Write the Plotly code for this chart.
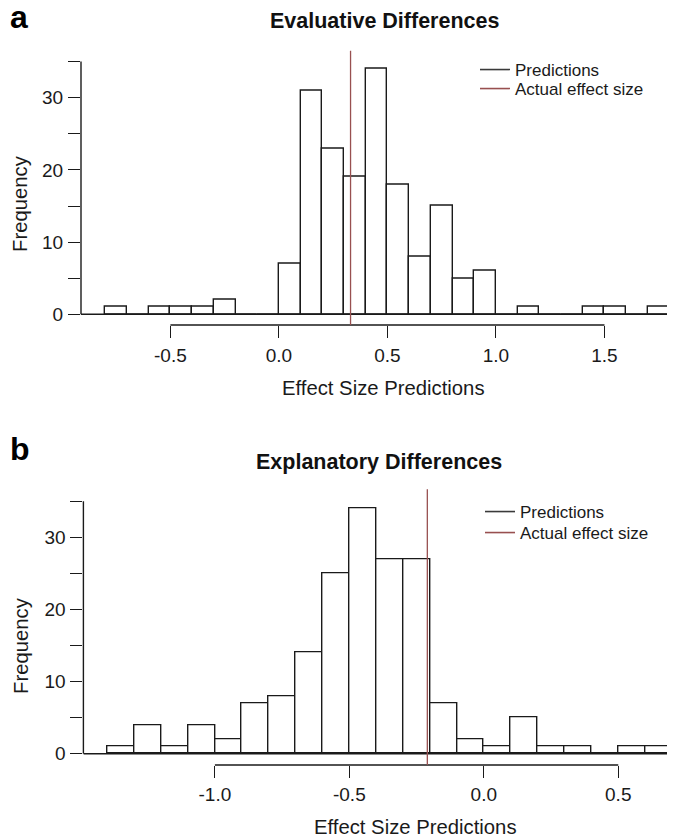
import plotly.graph_objects as go

# ---------------- data ----------------
bins_a = [-0.8, -0.7, -0.6, -0.5, -0.4, -0.3, -0.2, -0.1, 0.0, 0.1, 0.2, 0.3, 0.4,
          0.5, 0.6, 0.7, 0.8, 0.9, 1.0, 1.1, 1.2, 1.3, 1.4, 1.5, 1.6, 1.7]
counts_a = [1, 0, 1, 1, 1, 2, 0, 0, 7, 31, 23, 19, 34,
            18, 8, 15, 5, 6, 0, 1, 0, 0, 1, 1, 0, 1]

bins_b = [-1.4, -1.3, -1.2, -1.1, -1.0, -0.9, -0.8, -0.7, -0.6, -0.5, -0.4,
          -0.3, -0.2, -0.1, 0.0, 0.1, 0.2, 0.3, 0.4, 0.5, 0.6]
counts_b = [1, 4, 1, 4, 2, 7, 8, 14, 25, 34, 27,
            27, 7, 2, 1, 5, 1, 1, 0, 1, 1]

bin_width = 0.1
actual_a = 0.33
actual_b = -0.21

xticks_a = [-0.5, 0.0, 0.5, 1.0, 1.5]
xlabels_a = ["-0.5", "0.0", "0.5", "1.0", "1.5"]
xticks_b = [-1.0, -0.5, 0.0, 0.5]
xlabels_b = ["-1.0", "-0.5", "0.0", "0.5"]
yticks = [0, 5, 10, 15, 20, 25, 30, 35]
ylabels = ["0", "", "10", "", "20", "", "30", ""]
ymax_axis = 35

titles = ["Evaluative Differences", "Explanatory Differences"]
panel_letters = ["a", "b"]
xlabel = "Effect Size Predictions"
ylabel = "Frequency"
legend_names = ["Predictions", "Actual effect size"]

# ---------------- styling ----------------
# page body has an 8px margin, so the figure is drawn 8px right/down
OFF = 8
W, H = 675 - OFF, 839 - OFF
FONT = "Liberation Sans, Arial, Helvetica, sans-serif"
INK = "#1a1a1a"
RED = "#985050"
LEG_DARK = "#3a3a3a"
LW = 1.4


def fx(p):
    return (p - OFF) / W


def fy(p):
    return 1 - (p - OFF) / H


fig = go.Figure()

panels = [
    dict(bins=bins_a, counts=counts_a, actual=actual_a, xt=xticks_a, xl=xlabels_a,
         xa="x", ya="y", xdom=[fx(81), 1.0], ydom=[fy(325), fy(50.7)],
         xr=[-0.912, 1.825], yr=[-1.48, 36.51], xstand=1,
         title_y=21, title_x=385, xlab_x=383, xlab_y=388, ylab_x=20, ylab_y=204,
         letter_y=17, leg_y=[69, 88], leg_x=510, legs=("legend", "legend2")),
    dict(bins=bins_b, counts=counts_b, actual=actual_b, xt=xticks_b, xl=xlabels_b,
         xa="x2", ya="y2", xdom=[fx(83.4), 1.0], ydom=[fy(765), fy(489.3)],
         xr=[-1.489, 0.711], yr=[-1.57, 36.67], xstand=0,
         title_y=462, title_x=379, xlab_x=415, xlab_y=827, ylab_x=21, ylab_y=646,
         letter_y=449, leg_y=[511, 532], leg_x=515, legs=("legend3", "legend4")),
]

layout = dict(
    width=W, height=H,
    margin=dict(l=0, r=0, t=0, b=0),
    paper_bgcolor="white", plot_bgcolor="white",
    font=dict(family=FONT, color=INK),
    showlegend=True,
    bargap=0,
)

shapes = []
annotations = []

for i, p in enumerate(panels):
    suffix = "" if i == 0 else "2"
    xaxis_name = "xaxis" + suffix
    yaxis_name = "yaxis" + suffix
    centers = [b + bin_width / 2 for b in p["bins"]]
    fig.add_trace(go.Bar(
        x=centers, y=p["counts"], width=bin_width,
        marker=dict(color="white", line=dict(color=INK, width=LW)),
        xaxis=p["xa"], yaxis=p["ya"], showlegend=False, hoverinfo="x+y",
    ))
    # legend entries
    fig.add_trace(go.Scatter(x=[None], y=[None], mode="lines",
                             line=dict(color=LEG_DARK, width=1.6),
                             name=legend_names[0], legend=p["legs"][0],
                             xaxis=p["xa"], yaxis=p["ya"]))
    fig.add_trace(go.Scatter(x=[None], y=[None], mode="lines",
                             line=dict(color=RED, width=1.6),
                             name=legend_names[1], legend=p["legs"][1],
                             xaxis=p["xa"], yaxis=p["ya"]))
    for k, lg in enumerate(p["legs"]):
        layout[lg] = dict(
            x=fx(p["leg_x"] - 35), y=fy(p["leg_y"][k] - 17), xanchor="left", yanchor="top",
            bgcolor="rgba(0,0,0,0)", borderwidth=0,
            font=dict(family=FONT, size=17, color=INK),
            itemwidth=30, tracegroupgap=0,
        )

    layout[xaxis_name] = dict(
        domain=p["xdom"], range=p["xr"], anchor=p["ya"],
        showgrid=False, zeroline=False, showline=False,
        ticks="outside", ticklen=12, tickwidth=LW, tickcolor=INK,
        tickvals=p["xt"], ticktext=p["xl"], ticklabelstandoff=p["xstand"],
        tickfont=dict(family=FONT, size=19, color=INK),
    )
    layout[yaxis_name] = dict(
        domain=p["ydom"], range=p["yr"], anchor=p["xa"],
        showgrid=False, zeroline=False, showline=False,
        ticks="outside", ticklen=12, tickwidth=LW, tickcolor=INK,
        tickvals=yticks, ticktext=ylabels, ticklabelstandoff=1,
        tickfont=dict(family=FONT, size=19, color=INK),
    )

    xr = p["xa"]
    yr = p["ya"]
    # x axis line (first to last tick) at bottom of plotting region
    shapes.append(dict(type="line", xref=xr, yref=yr + " domain",
                       x0=p["xt"][0], x1=p["xt"][-1], y0=0, y1=0,
                       line=dict(color=INK, width=LW)))
    # y axis line (0 to top tick)
    shapes.append(dict(type="line", xref=xr + " domain", yref=yr,
                       x0=0, x1=0, y0=0, y1=ymax_axis,
                       line=dict(color=INK, width=LW)))
    # baseline at zero
    shapes.append(dict(type="line", xref=xr, yref=yr,
                       x0=p["xr"][0], x1=p["bins"][-1] + bin_width, y0=0, y1=0,
                       line=dict(color=INK, width=LW)))
    # actual effect size line
    shapes.append(dict(type="line", xref=xr, yref=yr + " domain",
                       x0=p["actual"], x1=p["actual"], y0=0, y1=1,
                       line=dict(color=RED, width=1.3)))

    annotations += [
        dict(text="<b>%s</b>" % titles[i], x=fx(p["title_x"]), y=fy(p["title_y"]),
             xref="paper", yref="paper", xanchor="center", yanchor="middle",
             showarrow=False, font=dict(family=FONT, size=21.5, color="#111")),
        dict(text=xlabel, x=fx(p["xlab_x"]), y=fy(p["xlab_y"]),
             xref="paper", yref="paper", xanchor="center", yanchor="middle",
             showarrow=False, font=dict(family=FONT, size=20.3, color=INK)),
        dict(text=ylabel, x=fx(p["ylab_x"]), y=fy(p["ylab_y"]), textangle=-90,
             xref="paper", yref="paper", xanchor="center", yanchor="middle",
             showarrow=False, font=dict(family=FONT, size=20.3, color=INK)),
        dict(text="<b>%s</b>" % panel_letters[i], x=fx(OFF), y=fy(p["letter_y"]),
             xref="paper", yref="paper", xanchor="left", yanchor="middle",
             showarrow=False, font=dict(family=FONT, size=32, color="#000")),
    ]

layout["shapes"] = shapes
layout["annotations"] = annotations
fig.update_layout(**layout)

fig.write_html("out.html")
